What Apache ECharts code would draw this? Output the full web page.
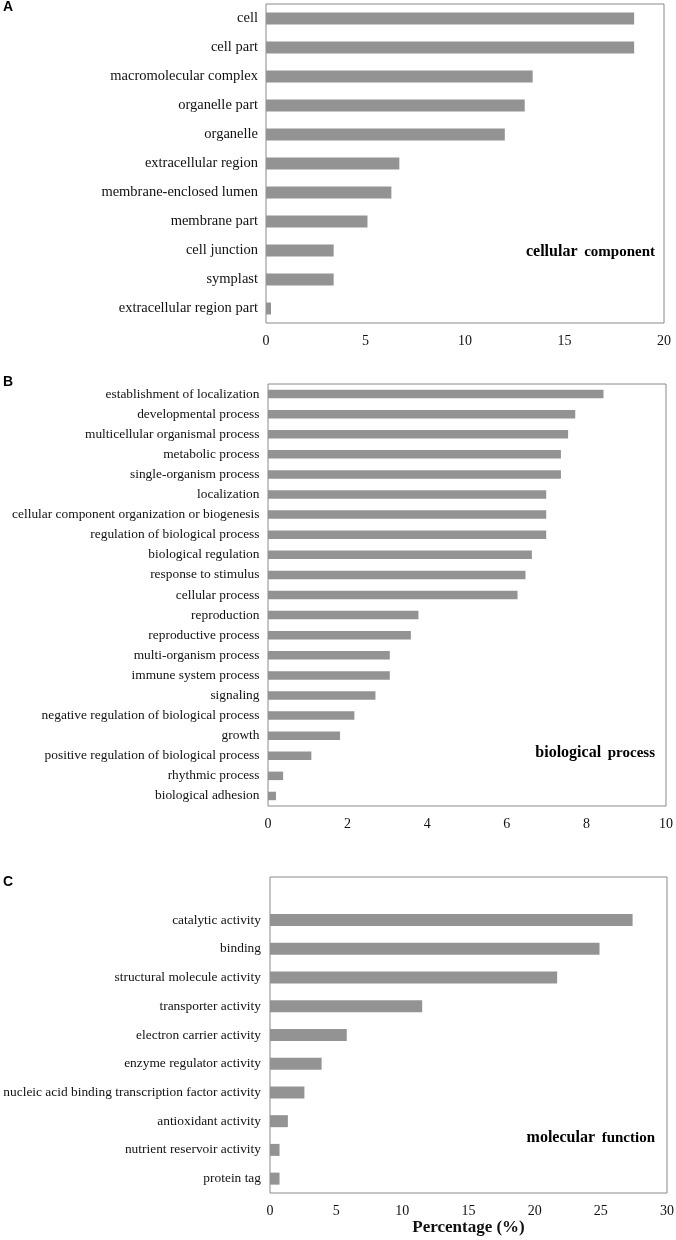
<!DOCTYPE html>
<html>
<head>
<meta charset="utf-8">
<script src="https://cdn.jsdelivr.net/npm/echarts@6/dist/echarts.min.js"></script>
<style>html,body{margin:0;padding:0;background:#fff;}#c{width:676px;height:1240px;}</style>
</head>
<body>
<div id="c"></div>
<script>
const catA = ['cell','cell part','macromolecular complex','organelle part','organelle','extracellular region','membrane-enclosed lumen','membrane part','cell junction','symplast','extracellular region part'];
const valA = [18.5,18.5,13.4,13.0,12.0,6.7,6.3,5.1,3.4,3.4,0.25];
const ticksA = {min:0,max:20,interval:5};

const catB = ['establishment of localization','developmental process','multicellular organismal process','metabolic process','single-organism process','localization','cellular component organization or biogenesis','regulation of biological process','biological regulation','response to stimulus','cellular process','reproduction','reproductive process','multi-organism process','immune system process','signaling','negative regulation of biological process','growth','positive regulation of biological process','rhythmic process','biological adhesion'];
const valB = [8.43,7.72,7.54,7.36,7.36,6.99,6.99,6.99,6.63,6.47,6.27,3.78,3.59,3.06,3.06,2.70,2.17,1.81,1.09,0.38,0.20];
const ticksB = {min:0,max:10,interval:2};

const catC = ['catalytic activity','binding','structural molecule activity','transporter activity','electron carrier activity','enzyme regulator activity','nucleic acid binding transcription factor activity','antioxidant activity','nutrient reservoir activity','protein tag'];
const valC = [27.4,24.9,21.7,11.5,5.8,3.9,2.6,1.35,0.72,0.72];
const ticksC = {min:0,max:30,interval:5};

const panelLetters = ['A','B','C'];
const panelTitles = [['cellular','component'],['biological','process'],['molecular','function']];
const xAxisTitle = 'Percentage (%)';

const serif = '"Liberation Serif", "Times New Roman", serif';
const barColor = '#939393';
const borderColor = '#8a8a8a';

const grids = [
  {left:266, right:12, top:4, height:319},
  {left:268, right:10, top:384, height:422},
  {left:270, right:9, top:877, height:316}
];
function gridOpt(g){return Object.assign({show:true,borderColor:borderColor,borderWidth:1,backgroundColor:'transparent',containLabel:false,outerBoundsMode:'none'},g);}
function xAx(i,t,extra){
  return Object.assign({type:'value',gridIndex:i,min:t.min,max:t.max,interval:t.interval,
    axisLine:{show:false},axisTick:{show:false},splitLine:{show:false},
    axisLabel:{fontFamily:serif,fontSize:14,color:'#111',margin:11}},extra||{});
}
function yAx(i,cats,fs,mg,extra){
  return Object.assign({type:'category',gridIndex:i,data:cats,inverse:true,
    axisLine:{show:false},axisTick:{show:false},splitLine:{show:false},
    axisLabel:{fontFamily:serif,fontSize:fs,color:'#111',margin:mg,
      formatter:function(v){return v==null||v==='undefined'?'':v;}}},extra||{});
}
function ser(i,vals,bw){
  return {type:'bar',xAxisIndex:i,yAxisIndex:i,data:vals,barWidth:bw,itemStyle:{color:barColor},silent:true,animation:false};
}
const titlePos = [252,753,1138];
const letterPos = [7,382,882];
const graphics = [];
panelLetters.forEach(function(L,i){
  graphics.push({type:'text',left:3,top:letterPos[i]-7,style:{text:L,font:'bold 14px "Liberation Sans", Arial, sans-serif',fill:'#000'}});
});
panelTitles.forEach(function(t,i){
  graphics.push({type:'text',x:655,y:titlePos[i],style:{text:'{a|'+t[0]+'}  {b|'+t[1]+'}',align:'right',verticalAlign:'middle',
    rich:{a:{font:'bold 16px '+serif,fill:'#000'},b:{font:'bold 15px '+serif,fill:'#000'}}}});
});

const chart = echarts.init(document.getElementById('c'),null,{renderer:'canvas'});
chart.setOption({
  animation:false,
  backgroundColor:'#fff',
  grid:grids.map(gridOpt),
  xAxis:[xAx(0,ticksA),xAx(1,ticksB),xAx(2,ticksC,{name:xAxisTitle,nameLocation:'middle',nameGap:26,
    nameTextStyle:{fontFamily:serif,fontSize:17,fontWeight:'bold',color:'#111'}})],
  yAxis:[yAx(0,catA,14.5,8),yAx(1,catB,13.4,8.5),yAx(2,catC,13.4,9,{min:-1})],
  series:[ser(0,valA,12),ser(1,valB,8.5),ser(2,valC,12)],
  graphic:graphics
});
</script>
</body>
</html>
